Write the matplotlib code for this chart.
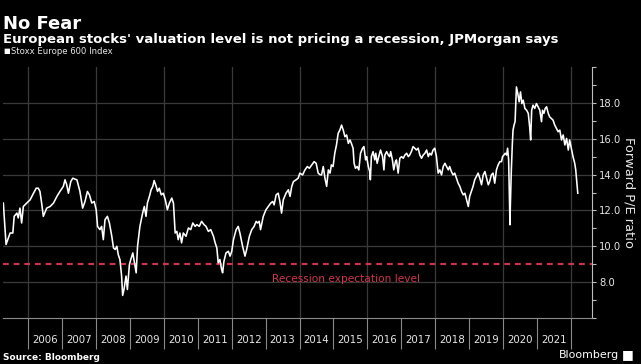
import matplotlib
matplotlib.use("Agg")
import matplotlib.pyplot as plt
from matplotlib import font_manager
from matplotlib.ticker import MultipleLocator, FixedLocator, FormatStrFormatter

# Stoxx Europe 600, forward P/E
years = [
    2005.26, 2005.34, 2005.46, 2005.54, 2005.58, 2005.66, 2005.70, 2005.75, 2005.80, 2005.85,
    2005.95, 2006.05, 2006.15, 2006.23, 2006.29, 2006.34, 2006.39, 2006.44, 2006.54, 2006.64,
    2006.74, 2006.84, 2006.93, 2007.03, 2007.08, 2007.13, 2007.18, 2007.25, 2007.31, 2007.38,
    2007.43, 2007.47, 2007.52, 2007.60, 2007.67, 2007.74, 2007.80, 2007.87, 2007.94, 2008.00,
    2008.04, 2008.11, 2008.16, 2008.21, 2008.26, 2008.33, 2008.39, 2008.46, 2008.51, 2008.56,
    2008.61, 2008.65, 2008.70, 2008.75, 2008.78, 2008.82, 2008.88, 2008.92, 2008.98, 2009.02,
    2009.08, 2009.13, 2009.18, 2009.22, 2009.29, 2009.37, 2009.42, 2009.47, 2009.51, 2009.57,
    2009.62, 2009.67, 2009.71, 2009.77, 2009.81, 2009.86, 2009.92, 2009.98, 2010.04, 2010.10,
    2010.16, 2010.23, 2010.28, 2010.33, 2010.38, 2010.42, 2010.47, 2010.52, 2010.57, 2010.65,
    2010.72, 2010.79, 2010.85, 2010.92, 2010.97, 2011.04, 2011.11, 2011.18, 2011.24, 2011.31,
    2011.38, 2011.46, 2011.51, 2011.56, 2011.60, 2011.65, 2011.70, 2011.73, 2011.77, 2011.83,
    2011.90, 2011.95, 2012.00, 2012.05, 2012.13, 2012.19, 2012.24, 2012.32, 2012.39, 2012.44,
    2012.52, 2012.59, 2012.66, 2012.72, 2012.76, 2012.81, 2012.85, 2012.93, 2013.01, 2013.08,
    2013.15, 2013.21, 2013.25, 2013.31, 2013.37, 2013.42, 2013.47, 2013.52, 2013.60, 2013.67,
    2013.72, 2013.77, 2013.82, 2013.90, 2013.96, 2014.01, 2014.09, 2014.16, 2014.23, 2014.29,
    2014.36, 2014.43, 2014.49, 2014.55, 2014.60, 2014.65, 2014.70, 2014.75, 2014.80, 2014.85,
    2014.90, 2014.94, 2014.99, 2015.04, 2015.09, 2015.14, 2015.19, 2015.24, 2015.29, 2015.34,
    2015.39, 2015.44, 2015.49, 2015.53, 2015.58, 2015.61, 2015.65, 2015.70, 2015.75, 2015.80,
    2015.86, 2015.90, 2015.95, 2015.98, 2016.03, 2016.07, 2016.09, 2016.12, 2016.17, 2016.22,
    2016.25, 2016.29, 2016.35, 2016.39, 2016.45, 2016.49, 2016.52, 2016.57, 2016.62, 2016.66,
    2016.69, 2016.74, 2016.78, 2016.83, 2016.86, 2016.91, 2016.96, 2017.01, 2017.06, 2017.11,
    2017.16, 2017.21, 2017.25, 2017.30, 2017.35, 2017.40, 2017.45, 2017.50, 2017.55, 2017.60,
    2017.65, 2017.70, 2017.75, 2017.80, 2017.84, 2017.89, 2017.94, 2017.99, 2018.04, 2018.09,
    2018.14, 2018.19, 2018.24, 2018.29, 2018.34, 2018.39, 2018.43, 2018.48, 2018.53, 2018.58,
    2018.63, 2018.68, 2018.73, 2018.78, 2018.83, 2018.88, 2018.93, 2018.98, 2019.02, 2019.07,
    2019.12, 2019.17, 2019.22, 2019.27, 2019.32, 2019.37, 2019.42, 2019.47, 2019.52, 2019.57,
    2019.61, 2019.66, 2019.71, 2019.76, 2019.81, 2019.86, 2019.91, 2019.96, 2019.99, 2020.03,
    2020.07, 2020.11, 2020.14, 2020.17, 2020.19, 2020.21, 2020.22, 2020.25, 2020.28, 2020.30,
    2020.33, 2020.36, 2020.40, 2020.44, 2020.48, 2020.52, 2020.56, 2020.60, 2020.65, 2020.70,
    2020.75, 2020.79, 2020.82, 2020.85, 2020.89, 2020.94, 2020.99, 2021.04, 2021.09, 2021.14,
    2021.17, 2021.21, 2021.25, 2021.29, 2021.34, 2021.38, 2021.43, 2021.48, 2021.53, 2021.58,
    2021.63, 2021.68, 2021.73, 2021.78, 2021.83, 2021.88, 2021.93, 2021.97, 2022.02, 2022.07,
    2022.12, 2022.15, 2022.19, 2022.21,
]
pe_ratio = [
    12.41, 10.10, 10.74, 10.74, 11.67, 11.85, 11.58, 12.13, 11.30, 12.22,
    12.41, 12.59, 12.96, 13.24, 13.24, 13.06, 12.41, 11.67, 12.13, 12.22,
    12.41, 12.78, 13.06, 13.34, 13.71, 13.43, 12.96, 13.61, 13.80, 13.74,
    13.71, 13.43, 13.06, 12.13, 12.50, 13.06, 12.87, 12.41, 12.50, 12.04,
    11.11, 10.93, 11.11, 10.37, 11.48, 11.67, 11.30, 10.56, 9.91, 9.82,
    10.00, 9.54, 9.26, 8.34, 7.26, 7.59, 8.34, 7.59, 8.98, 9.26,
    9.63, 9.08, 8.52, 10.00, 11.11, 11.85, 12.22, 11.67, 12.41, 12.78,
    13.15, 13.34, 13.67, 13.34, 13.06, 13.24, 12.87, 12.96, 12.59, 12.04,
    12.41, 12.69, 12.41, 10.74, 10.83, 10.37, 10.74, 10.19, 10.74, 10.56,
    11.02, 10.93, 11.30, 11.11, 11.21, 11.11, 11.39, 11.21, 11.11, 10.83,
    10.93, 10.56, 10.19, 9.91, 9.08, 9.26, 8.71, 8.52, 9.17, 9.63,
    9.72, 9.45, 9.72, 10.37, 10.93, 11.11, 10.74, 10.00, 9.45, 9.82,
    10.56, 10.93, 11.11, 11.39, 11.30, 11.39, 10.93, 11.67, 12.04, 12.22,
    12.41, 12.50, 12.31, 12.87, 12.96, 12.50, 11.85, 12.59, 12.96, 13.15,
    12.78, 13.34, 13.61, 13.71, 13.80, 14.08, 13.98, 14.26, 14.45, 14.35,
    14.54, 14.72, 14.63, 14.08, 14.00, 13.98, 14.45, 13.80, 13.34, 14.26,
    14.08, 14.54, 14.45, 15.19, 15.65, 16.30, 16.48, 16.76, 16.48, 16.11,
    16.21, 15.74, 15.93, 15.74, 15.47, 14.63, 14.35, 14.45, 14.26, 15.19,
    15.47, 15.56, 14.82, 15.00, 14.45, 14.17, 13.71, 15.00, 15.28, 14.82,
    15.19, 14.63, 15.09, 15.37, 15.00, 14.26, 15.09, 15.28, 15.09, 15.00,
    15.28, 14.82, 14.26, 14.72, 14.82, 14.08, 14.91, 15.00, 14.91, 15.09,
    15.19, 15.00, 15.09, 15.28, 15.56, 15.47, 15.37, 15.47, 15.09, 14.91,
    15.09, 15.19, 15.37, 15.00, 15.19, 15.09, 15.37, 15.47, 15.00, 14.08,
    14.26, 13.98, 14.45, 14.63, 14.45, 14.26, 14.45, 14.17, 13.98, 14.08,
    13.80, 13.52, 13.34, 13.06, 12.87, 12.96, 12.59, 12.22, 12.78, 13.06,
    13.34, 13.71, 13.89, 14.08, 13.80, 13.43, 13.98, 14.17, 13.80, 13.43,
    13.61, 13.98, 14.08, 13.52, 14.26, 14.54, 14.72, 14.72, 15.00, 15.09,
    15.19, 15.09, 15.47, 14.82, 12.96, 11.20, 12.22, 14.26, 15.74, 16.48,
    16.76, 16.95, 18.89, 18.52, 18.06, 18.61, 17.96, 18.15, 17.69, 17.59,
    17.41, 16.67, 15.93, 17.59, 17.87, 17.69, 17.96, 17.78, 17.59, 16.95,
    17.59, 17.41, 17.69, 17.78, 17.41, 17.22, 17.13, 17.04, 16.76, 16.58,
    16.39, 16.48, 15.93, 16.21, 15.65, 16.02, 15.37, 15.93, 15.47, 15.00,
    14.63, 14.26, 13.43, 12.96,
]
recession_level = 9.0
year_labels = ['2006', '2007', '2008', '2009', '2010', '2011', '2012', '2013',
               '2014', '2015', '2016', '2017', '2018', '2019', '2020', '2021']
y_ticks = [8.0, 10.0, 12.0, 14.0, 16.0, 18.0]
grid_years = [2006, 2008, 2010, 2012, 2014, 2016, 2018, 2020, 2022]

# Bloomberg charts use a narrow font, take one if it is installed
names = {f.name for f in font_manager.fontManager.ttflist}
if 'Liberation Sans Narrow' in names:
    font = 'Liberation Sans Narrow'
    k = 1.0
else:
    font = 'DejaVu Sans'
    k = 0.72
plt.rcParams['font.family'] = [font, 'DejaVu Sans']

W, H = 641, 364
fig = plt.figure(figsize=(W / 100, H / 100), dpi=100, facecolor='black')
ax = fig.add_axes([3 / W, 46 / H, 589 / W, 251 / H])
ax.set_facecolor('black')

ax.plot(years, pe_ratio, color='white', lw=1.15, zorder=3)
ax.axhline(recession_level, color='#d0344c', lw=1.6, ls=(0, (2.6, 2.2)), zorder=2)
ax.text(2015.37, 8.15, 'Recession expectation level', color='#d0344c',
        fontsize=10.5 * k, ha='center', va='center')

ax.set_xlim(2005.25, 2022.63)
ax.set_ylim(6, 20)

# grid: even years and every 2.0
for x in grid_years:
    ax.axvline(x, color='#3a3a3a', lw=0.9, zorder=1)
for y in y_ticks:
    ax.axhline(y, color='#3a3a3a', lw=0.9, zorder=1)

# x axis: year separators below the axis, labels in between
ax.xaxis.set_major_locator(FixedLocator(list(range(2006, 2023))))
ax.xaxis.set_minor_locator(FixedLocator([int(s) + 0.5 for s in year_labels]))
ax.set_xticklabels([], minor=False)
ax.set_xticklabels(year_labels, minor=True)
ax.tick_params(axis='x', which='major', direction='out', length=22, width=0.8,
               color='#8a8a8a')
ax.tick_params(axis='x', which='minor', length=0, pad=12, labelsize=10.3 * k,
               labelcolor='#e6e6e6')

# y axis on the right
ax.yaxis.tick_right()
ax.yaxis.set_label_position('right')
ax.yaxis.set_major_locator(FixedLocator(y_ticks))
ax.yaxis.set_minor_locator(MultipleLocator(1.0))
ax.yaxis.set_major_formatter(FormatStrFormatter('%.1f'))
ax.tick_params(axis='y', which='both', direction='out', length=3, width=0.8,
               color='#bdbdbd', labelsize=10 * k, labelcolor='#e6e6e6', pad=2)
ax.set_ylabel('Forward P/E ratio', color='#e6e6e6', fontsize=13 * k,
              rotation=-90, labelpad=10)

for side in ['top', 'left']:
    ax.spines[side].set_visible(False)
ax.spines['right'].set_color('#bdbdbd')
ax.spines['bottom'].set_color('#8a8a8a')
ax.spines['right'].set_linewidth(0.8)
ax.spines['bottom'].set_linewidth(0.8)

# titles
fig.text(3 / W, 1 - 29 / H, 'No Fear', color='white', fontsize=18 * k,
         fontweight='bold', va='baseline')
fig.text(3 / W, 1 - 43 / H, "European stocks' valuation level is not pricing a recession, JPMorgan says",
         color='white', fontsize=13.2 * k, fontweight='bold', va='baseline')
fig.text(3 / W, 1 - 51 / H, '\u25A0', color='white', fontsize=5, va='center')
fig.text(11 / W, 1 - 51 / H, 'Stoxx Europe 600 Index', color='#e6e6e6',
         fontsize=8.5 * k, va='center')

fig.text(3 / W, 1 - 357 / H, 'Source: Bloomberg', color='white', fontsize=9 * k,
         fontweight='bold', va='center')
fig.text(619 / W, 1 - 355 / H, 'Bloomberg', color='white', fontsize=11 * k,
         ha='right', va='center')
fig.text(622 / W, 1 - 355 / H, '\u25A0', color='white', fontsize=9, va='center')

fig.savefig('out.png', dpi=100, facecolor='black')
